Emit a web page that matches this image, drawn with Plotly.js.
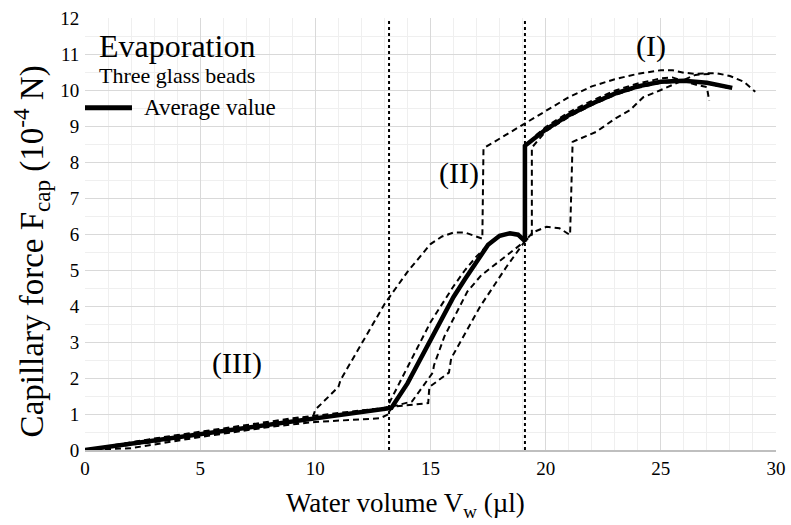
<!DOCTYPE html>
<html>
<head>
<meta charset="utf-8">
<script src="https://cdn.plot.ly/plotly-3.0.1.min.js"></script>
<style>html,body{margin:0;padding:0;background:#fff}#chart{width:791px;height:525px}</style>
</head>
<body>
<div id="chart"></div>
<script>
// Average value (solid)
var avgX = [0, 13.3, 14, 15, 16, 16.5, 17, 17.5, 18, 18.45, 18.8, 19.1, 19.1, 19.5, 20, 21, 22, 23, 24, 25, 26, 27, 28.1];
var avgY = [0, 1.17, 1.85, 3.05, 4.25, 4.75, 5.25, 5.7, 5.95, 6.02, 5.98, 5.8, 8.45, 8.65, 8.9, 9.3, 9.62, 9.9, 10.1, 10.23, 10.26, 10.2, 10.06];

// Individual measurements (dashed)
var runAX = [0, 3, 6, 9, 9.9, 10.0, 11.0, 11.1, 12, 13, 14, 14.5, 15, 15.5, 16, 16.5, 17, 17.25, 17.3, 18, 19, 20, 21, 22, 23, 24, 25, 25.5, 26, 26.5, 27.4, 28, 28.6, 29.1];
var runAY = [0, 0.3, 0.57, 0.85, 0.93, 1.12, 1.75, 1.95, 2.95, 4.05, 4.95, 5.35, 5.72, 5.93, 6.04, 6.04, 5.93, 5.87, 8.38, 8.65, 9.02, 9.42, 9.8, 10.1, 10.3, 10.45, 10.55, 10.55, 10.48, 10.45, 10.47, 10.39, 10.23, 9.95];

var runBX = [0, 3, 6, 9, 12, 13.1, 14, 15, 16, 16.5, 17, 17.5, 18, 18.45, 18.8, 19.1, 19.1, 19.5, 20, 21, 22, 23, 24, 25, 25.5, 26, 26.5, 27, 27.1];
var runBY = [0, 0.32, 0.6, 0.88, 1.1, 1.17, 2.3, 3.55, 4.55, 5.0, 5.38, 5.7, 5.93, 6.0, 5.96, 5.8, 8.42, 8.7, 8.97, 9.38, 9.7, 9.98, 10.18, 10.32, 10.35, 10.25, 10.15, 10.08, 9.7];

var runCX = [0, 3, 6, 9, 12, 13.3, 14.2, 15.1, 15.15, 15.6, 16.6, 17.2, 18.3, 19.1, 19.4, 19.4, 20, 21, 22, 23, 24, 25, 26, 27, 28];
var runCY = [0, 0.22, 0.47, 0.77, 1.05, 1.2, 1.35, 2.15, 2.35, 3.15, 4.4, 4.85, 5.4, 5.8, 5.98, 8.4, 8.85, 9.25, 9.58, 9.86, 10.06, 10.2, 10.24, 10.18, 10.05];

var runDX = [0, 2, 5, 8, 10, 12.8, 13.2, 13.3, 14.9, 14.95, 15.8, 15.9, 17.15, 18.3, 19.1, 19.45, 20.04, 20.6, 21.06, 21.17, 22.2, 23, 23.66, 24.24, 25, 25.5, 26, 26.5, 27.2];
var runDY = [0, 0.05, 0.36, 0.64, 0.78, 0.88, 1.0, 1.2, 1.3, 1.75, 2.15, 2.55, 3.98, 5.09, 5.8, 6.05, 6.2, 6.16, 5.97, 8.56, 8.84, 9.2, 9.44, 9.8, 10.0, 10.14, 10.27, 10.42, 10.45];

// Regime boundaries (dotted vertical lines)
var boundaries = [13.2, 19.1];

// Regime labels
var regimeLabels = ["(I)", "(II)", "(III)"];
var regimeX = [24.58, 16.22, 6.62];
var regimeY = [11.22, 7.69, 2.42];

var serif = "Liberation Serif, Times New Roman, serif";

function dashed(x, y) {
  return {x: x, y: y, type: "scatter", mode: "lines", showlegend: false, hoverinfo: "skip",
          line: {color: "#000", width: 2, dash: "6px,4px"}};
}

var traces = [
  dashed(runAX, runAY),
  dashed(runBX, runBY),
  dashed(runCX, runCY),
  dashed(runDX, runDY),
  {x: avgX, y: avgY, type: "scatter", mode: "lines", name: "Average value",
   line: {color: "#000", width: 4.5}, showlegend: false}
];

var shapes = boundaries.map(function (b) {
  return {type: "line", xref: "x", yref: "y", x0: b, x1: b, y0: 0, y1: 12,
          line: {color: "#000", width: 2, dash: "dot"}, layer: "above"};
});
// legend sample line
shapes.push({type: "line", xref: "paper", yref: "paper", x0: 0, x1: 0.068, y0: 0.792, y1: 0.792,
             line: {color: "#000", width: 5}});

var annotations = regimeLabels.map(function (t, i) {
  return {x: regimeX[i], y: regimeY[i], xref: "x", yref: "y", text: t, showarrow: false,
          font: {family: serif, size: 30, color: "#000"}};
});
annotations.push({x: 0.017, y: 0.935, xref: "paper", yref: "paper", xanchor: "left", yanchor: "middle",
  text: "Evaporation", showarrow: false, font: {family: serif, size: 32, color: "#000"}});
annotations.push({x: 0.017, y: 0.868, xref: "paper", yref: "paper", xanchor: "left", yanchor: "middle",
  text: "Three glass beads", showarrow: false, font: {family: serif, size: 22, color: "#000"}});
annotations.push({x: 0.083, y: 0.792, xref: "paper", yref: "paper", xanchor: "left", yanchor: "middle",
  text: "Average value", showarrow: false, font: {family: serif, size: 23, color: "#000"}});
// axis titles
annotations.push({x: 0.4645, y: -0.127, xref: "paper", yref: "paper", xanchor: "center", yanchor: "middle",
  text: "Water volume V<sub>w</sub> (µl)", showarrow: false, font: {family: serif, size: 27, color: "#000"}});
annotations.push({x: -0.078, y: 0.46, xref: "paper", yref: "paper", xanchor: "center", yanchor: "middle",
  textangle: -90, text: "Capillary force F<sub>cap</sub> (10<sup>-4</sup> N)", showarrow: false,
  font: {family: serif, size: 33, color: "#000"}});

var layout = {
  width: 791, height: 525,
  margin: {l: 85, r: 15, t: 18, b: 75},
  paper_bgcolor: "#fff", plot_bgcolor: "#fff",
  font: {family: serif, color: "#000"},
  showlegend: false,
  xaxis: {
    range: [0, 30], dtick: 5, tick0: 0, ticks: "", showline: true, linecolor: "#bfbfbf", linewidth: 2,
    showgrid: true, gridcolor: "#d9d9d9", gridwidth: 1, zeroline: false,
    minor: {dtick: 1, showgrid: true, gridcolor: "#efefef", gridwidth: 1},
    tickfont: {family: serif, size: 19, color: "#000"}
  },
  yaxis: {
    range: [0, 12], dtick: 1, tick0: 0, ticks: "", showline: false,
    showgrid: true, gridcolor: "#d9d9d9", gridwidth: 1, zeroline: false,
    minor: {dtick: 0.5, showgrid: true, gridcolor: "#efefef", gridwidth: 1},
    tickfont: {family: serif, size: 19, color: "#000"},
    ticksuffix: " "
  },
  shapes: shapes,
  annotations: annotations
};

Plotly.newPlot("chart", traces, layout, {staticPlot: true, displayModeBar: false});
</script>
</body>
</html>
